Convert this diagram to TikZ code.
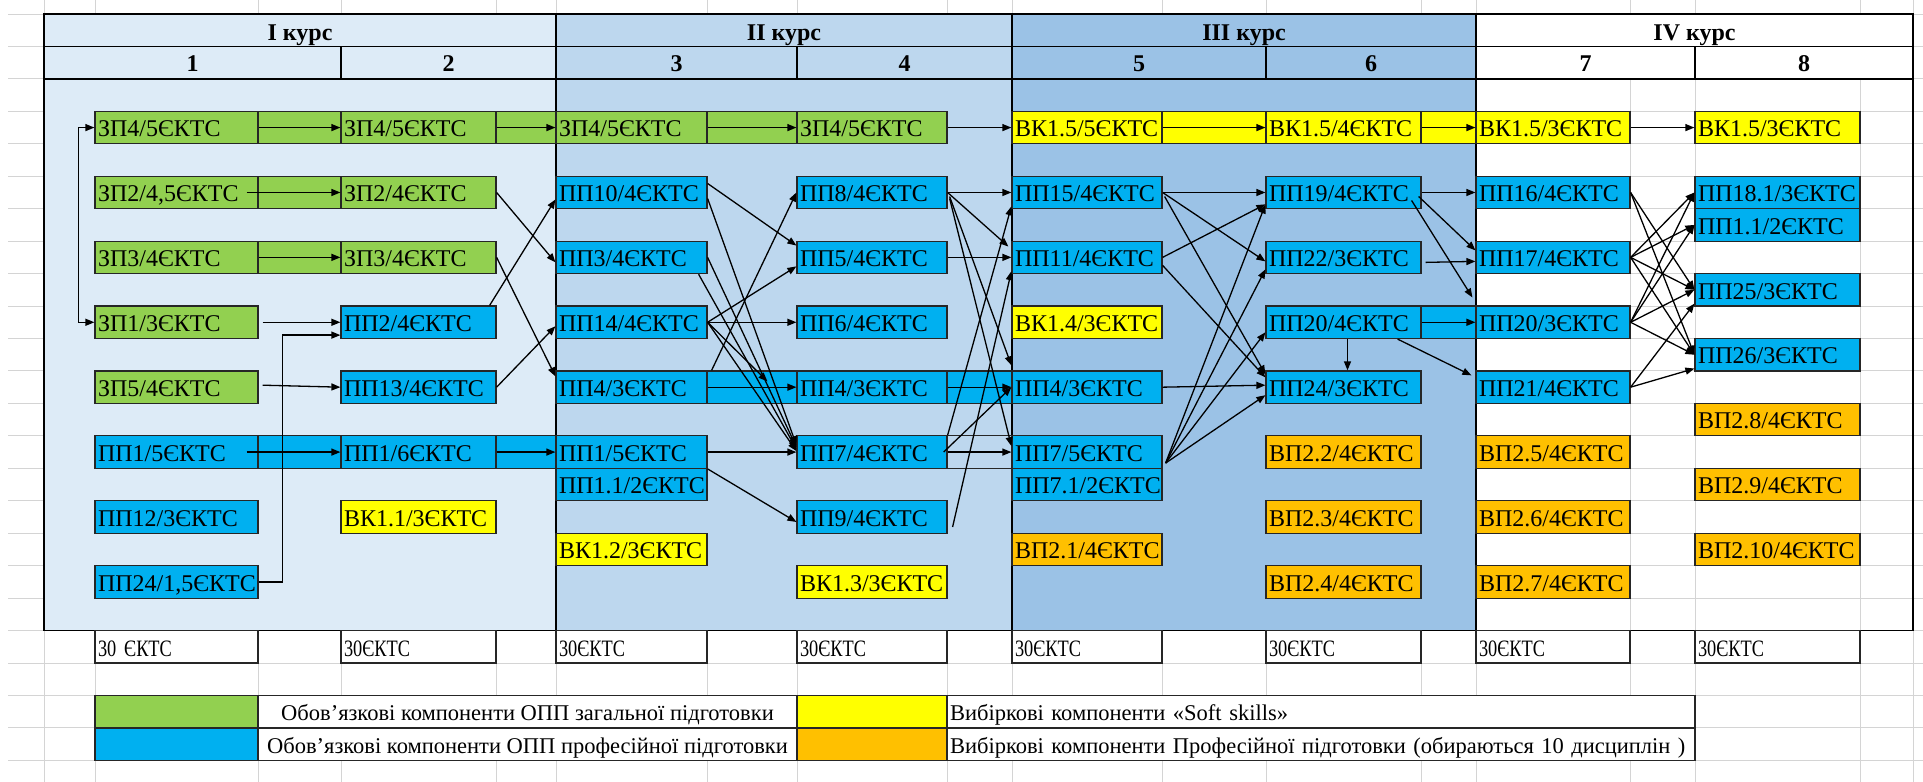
\documentclass[tikz,border=0pt]{standalone}
\usepackage{fontspec}
\setmainfont{Liberation Serif}
\newfontfamily\sumfamily[FakeStretch=0.78]{Liberation Serif}
\usepackage{tikz}
\usetikzlibrary{arrows.meta, calc}

\definecolor{zpgreen}{HTML}{92D050}
\definecolor{ppblue}{HTML}{00B0F0}
\definecolor{vkyellow}{HTML}{FFFF00}
\definecolor{vporange}{HTML}{FFC000}
\definecolor{yearone}{HTML}{DDEBF7}
\definecolor{yeartwo}{HTML}{BDD7EE}
\definecolor{yearthree}{HTML}{9BC2E6}
\definecolor{gridgray}{HTML}{D4D4D4}

\newcommand{\cellfont}{\fontsize{24}{28}\selectfont}
\newcommand{\legfont}{\fontsize{22.5}{26}\selectfont}
\newcommand{\sumfont}{\sumfamily\fontsize{23.5}{27}\selectfont}

\tikzstyle{cell} = [rectangle, draw=black!85, line width=1.2pt, minimum height=32.45pt, inner xsep=3pt, inner ysep=0pt, text height=18.45pt, text depth=0pt, align=left, font=\cellfont]
\tikzstyle{zp} = [cell, fill=zpgreen]
\tikzstyle{pp} = [cell, fill=ppblue]
\tikzstyle{vk} = [cell, fill=vkyellow]
\tikzstyle{vp} = [cell, fill=vporange]
\tikzstyle{blank} = [cell, fill=white]
\tikzstyle{sum} = [blank, font=\sumfont]
\tikzstyle{legend} = [blank, font=\legfont]
\tikzstyle{colA} = [text width=157pt]
\tikzstyle{colB} = [text width=149pt]
\tikzstyle{colC} = [text width=145pt]
\tikzstyle{colD} = [text width=144pt]
\tikzstyle{colE} = [text width=144pt]
\tikzstyle{colF} = [text width=149pt]
\tikzstyle{colG} = [text width=148pt]
\tikzstyle{colH} = [text width=159pt]
\tikzstyle{head} = [font=\bfseries\cellfont, inner sep=0pt, text height=15pt, text depth=0pt]
\tikzstyle{strip} = [draw=black!85, line width=1.2pt]
\tikzstyle{gridline} = [draw=gridgray, line width=1pt]
\tikzstyle{frame} = [draw=black, line width=1.4pt]
\tikzstyle{arrow} = [line width=1.3pt, ->, >={Triangle[length=9pt,width=7pt]}]

\begin{document}
\begin{tikzpicture}[x=1pt, y=-1pt, node distance=64.9pt]
\useasboundingbox (0,0) rectangle (1923,782);

% spreadsheet grid
\foreach \gx in {44,95,258,341,496,556,707,797,947,1012,1162,1266,1421,1476,1630,1695,1860,1913}
  \draw [gridline] (\gx,0) -- (\gx,782);
\foreach \k in {0,...,23}
  \draw [gridline] (8,{14+32.45*\k}) -- (1923,{14+32.45*\k});

% years
\fill [yearone] (44,14) rectangle (556,630.55);
\fill [yeartwo] (556,14) rectangle (1012,630.55);
\fill [yearthree] (1012,14) rectangle (1476,630.55);
\fill [white] (1476,14) rectangle (1913,78.9);
\draw [frame] (44,14) rectangle (1913,630.55);
\draw [frame] (44,46.45) -- (1913,46.45);
\draw [frame] (44,78.9) -- (1913,78.9);
\foreach \bx in {556,1012,1476}
  \draw [frame] (\bx,14) -- (\bx,630.55);
\foreach \sx in {341,797,1266,1695}
  \draw [frame] (\sx,46.45) -- (\sx,78.9);

\node (kursI) [head] at (300,32.5) {I курс};
\node (kursII) [head] at (784,32.5) {II курс};
\node (kursIII) [head] at (1244,32.5) {III курс};
\node (kursIV) [head] at (1694.5,32.5) {IV курс};
\node (semA) [head] at (192.5,64.2) {1};
\node (semB) [head] at (448.5,64.2) {2};
\node (semC) [head] at (676.5,64.2) {3};
\node (semD) [head] at (904.5,64.2) {4};
\node (semE) [head] at (1139,64.2) {5};
\node (semF) [head] at (1371,64.2) {6};
\node (semG) [head] at (1585.5,64.2) {7};
\node (semH) [head] at (1804,64.2) {8};

% cells between boxes of one row
\filldraw [strip, fill=zpgreen] (258,111.35) rectangle (341,143.8);
\filldraw [strip, fill=zpgreen] (496,111.35) rectangle (556,143.8);
\filldraw [strip, fill=zpgreen] (707,111.35) rectangle (797,143.8);
\filldraw [strip, fill=zpgreen] (258,176.25) rectangle (341,208.7);
\filldraw [strip, fill=zpgreen] (258,241.15) rectangle (341,273.6);
\filldraw [strip, fill=ppblue] (258,435.85) rectangle (341,468.3);
\filldraw [strip, fill=ppblue] (496,435.85) rectangle (556,468.3);
\filldraw [strip, fill=ppblue] (707,370.95) rectangle (797,403.4);
\filldraw [strip, fill=ppblue] (947,370.95) rectangle (1012,403.4);
\filldraw [strip, fill=vkyellow] (1162,111.35) rectangle (1266,143.8);
\filldraw [strip, fill=vkyellow] (1421,111.35) rectangle (1476,143.8);
\filldraw [strip, fill=ppblue] (1421,306.05) rectangle (1476,338.5);
\draw [strip] (947,435.85) -- (1012,435.85);
\draw [strip] (947,468.3) -- (1012,468.3);

% semester 1
\node (zp4a) [zp, colA] at (176.5,127.575) {ЗП4/5ЄКТС};
\node (zp2a) [zp, colA, below of=zp4a] {ЗП2/4,5ЄКТС};
\node (zp3a) [zp, colA, below of=zp2a] {ЗП3/4ЄКТС};
\node (zp1a) [zp, colA, below of=zp3a] {ЗП1/3ЄКТС};
\node (zp5a) [zp, colA, below of=zp1a] {ЗП5/4ЄКТС};
\node (pp1a) [pp, colA, below of=zp5a] {ПП1/5ЄКТС};
\node (pp12a) [pp, colA, below of=pp1a] {ПП12/3ЄКТС};
\node (pp24a) [pp, colA, below of=pp12a] {ПП24/1,5ЄКТС};

% semester 2
\node (zp4b) [zp, colB] at (418.5,127.575) {ЗП4/5ЄКТС};
\node (zp2b) [zp, colB, below of=zp4b] {ЗП2/4ЄКТС};
\node (zp3b) [zp, colB, below of=zp2b] {ЗП3/4ЄКТС};
\node (pp2b) [pp, colB, below of=zp3b] {ПП2/4ЄКТС};
\node (pp13b) [pp, colB, below of=pp2b] {ПП13/4ЄКТС};
\node (pp1b) [pp, colB, below of=pp13b] {ПП1/6ЄКТС};
\node (vk11b) [vk, colB, below of=pp1b] {ВК1.1/3ЄКТС};

% semester 3
\node (zp4c) [zp, colC] at (631.5,127.575) {ЗП4/5ЄКТС};
\node (pp10c) [pp, colC, below of=zp4c] {ПП10/4ЄКТС};
\node (pp3c) [pp, colC, below of=pp10c] {ПП3/4ЄКТС};
\node (pp14c) [pp, colC, below of=pp3c] {ПП14/4ЄКТС};
\node (pp4c) [pp, colC, below of=pp14c] {ПП4/3ЄКТС};
\node (pp1c) [pp, colC, below of=pp4c] {ПП1/5ЄКТС};
\node (pp11c) [node distance=32.45pt, pp, colC, below of=pp1c] {ПП1.1/2ЄКТС};
\node (vk12c) [vk, colC, below of=pp11c] {ВК1.2/3ЄКТС};

% semester 4
\node (zp4d) [zp, colD] at (872,127.575) {ЗП4/5ЄКТС};
\node (pp8d) [pp, colD, below of=zp4d] {ПП8/4ЄКТС};
\node (pp5d) [pp, colD, below of=pp8d] {ПП5/4ЄКТС};
\node (pp6d) [pp, colD, below of=pp5d] {ПП6/4ЄКТС};
\node (pp4d) [pp, colD, below of=pp6d] {ПП4/3ЄКТС};
\node (pp7d) [pp, colD, below of=pp4d] {ПП7/4ЄКТС};
\node (pp9d) [pp, colD, below of=pp7d] {ПП9/4ЄКТС};
\node (vk13d) [vk, colD, below of=pp9d] {ВК1.3/3ЄКТС};

% semester 5
\node (vk15e) [vk, colE] at (1087,127.575) {ВК1.5/5ЄКТС};
\node (pp15e) [pp, colE, below of=vk15e] {ПП15/4ЄКТС};
\node (pp11e) [pp, colE, below of=pp15e] {ПП11/4ЄКТС};
\node (vk14e) [vk, colE, below of=pp11e] {ВК1.4/3ЄКТС};
\node (pp4e) [pp, colE, below of=vk14e] {ПП4/3ЄКТС};
\node (pp7e) [pp, colE, below of=pp4e] {ПП7/5ЄКТС};
\node (pp71e) [node distance=32.45pt, pp, colE, below of=pp7e] {ПП7.1/2ЄКТС};
\node (vp21e) [vp, colE, below of=pp71e] {ВП2.1/4ЄКТС};

% semester 6
\node (vk15f) [vk, colF] at (1343.5,127.575) {ВК1.5/4ЄКТС};
\node (pp19f) [pp, colF, below of=vk15f] {ПП19/4ЄКТС};
\node (pp22f) [pp, colF, below of=pp19f] {ПП22/3ЄКТС};
\node (pp20f) [pp, colF, below of=pp22f] {ПП20/4ЄКТС};
\node (pp24f) [pp, colF, below of=pp20f] {ПП24/3ЄКТС};
\node (vp22f) [vp, colF, below of=pp24f] {ВП2.2/4ЄКТС};
\node (vp23f) [vp, colF, below of=vp22f] {ВП2.3/4ЄКТС};
\node (vp24f) [vp, colF, below of=vp23f] {ВП2.4/4ЄКТС};

% semester 7
\node (vk15g) [vk, colG] at (1553,127.575) {ВК1.5/3ЄКТС};
\node (pp16g) [pp, colG, below of=vk15g] {ПП16/4ЄКТС};
\node (pp17g) [pp, colG, below of=pp16g] {ПП17/4ЄКТС};
\node (pp20g) [pp, colG, below of=pp17g] {ПП20/3ЄКТС};
\node (pp21g) [pp, colG, below of=pp20g] {ПП21/4ЄКТС};
\node (vp25g) [vp, colG, below of=pp21g] {ВП2.5/4ЄКТС};
\node (vp26g) [vp, colG, below of=vp25g] {ВП2.6/4ЄКТС};
\node (vp27g) [vp, colG, below of=vp26g] {ВП2.7/4ЄКТС};

% semester 8
\node (vk15h) [vk, colH] at (1777.5,127.575) {ВК1.5/3ЄКТС};
\node (pp181h) [pp, colH, below of=vk15h] {ПП18.1/3ЄКТС};
\node (pp11h) [node distance=32.45pt, pp, colH, below of=pp181h] {ПП1.1/2ЄКТС};
\node (pp25h) [pp, colH, below of=pp11h] {ПП25/3ЄКТС};
\node (pp26h) [pp, colH, below of=pp25h] {ПП26/3ЄКТС};
\node (vp28h) [vp, colH, below of=pp26h] {ВП2.8/4ЄКТС};
\node (vp29h) [vp, colH, below of=vp28h] {ВП2.9/4ЄКТС};
\node (vp210h) [vp, colH, below of=vp29h] {ВП2.10/4ЄКТС};

% credits per semester
\node (sumA) [sum, colA] at (176.5,646.775) {30 ЄКТС};
\node (sumB) [sum, colB] at (418.5,646.775) {30ЄКТС};
\node (sumC) [sum, colC] at (631.5,646.775) {30ЄКТС};
\node (sumD) [sum, colD] at (872,646.775) {30ЄКТС};
\node (sumE) [sum, colE] at (1087,646.775) {30ЄКТС};
\node (sumF) [sum, colF] at (1343.5,646.775) {30ЄКТС};
\node (sumG) [sum, colG] at (1553,646.775) {30ЄКТС};
\node (sumH) [sum, colH] at (1777.5,646.775) {30ЄКТС};

% legend
\node (legzp) [zp, minimum width=163pt] at (176.5,711.675) {};
\node (legzptext) [legend, minimum width=539pt] at (527.5,711.675) {Обов’язкові компоненти ОПП загальної підготовки};
\node (legvk) [vk, minimum width=150pt] at (872,711.675) {};
\node (legvktext) [legend, text width=742pt] at (1321,711.675) {\mbox{Вибіркові компоненти «Soft skills»}};
\node (legpp) [pp, minimum width=163pt] at (176.5,744.125) {};
\node (legpptext) [legend, minimum width=539pt] at (527.5,744.125) {Обов’язкові компоненти ОПП професійної підготовки};
\node (legvp) [vp, minimum width=150pt] at (872,744.125) {};
\node (legvptext) [legend, text width=742pt] at (1321,744.125) {\mbox{Вибіркові компоненти Професійної підготовки (обираються 10 дисциплін )}};

% semester 1 -> 2
\draw [arrow, <->] (zp4a.west) -- ++(-16,0) |- (zp1a.west);
\draw [arrow] (zp4a.east) -- (zp4b.west);
\draw [arrow] ($(zp2a.east)+(-12,0)$) -- (zp2b.west);
\draw [arrow] (zp3a.east) -- (zp3b.west);
\draw [arrow] ($(zp1a.east)+(4,0)$) -- (pp2b.west);
\draw [arrow] ($(zp5a.east)+(4,-2)$) -- (pp13b.west);
\draw [arrow] ($(pp1a.east)+(-12,0)$) -- (pp1b.west);
\draw [arrow] (pp24a.east) -- ++(24,0) |- ($(pp2b.south west)+(0,-4)$);

% semester 2 -> 3
\draw [arrow] (zp4b.east) -- (zp4c.west);
\draw [arrow] (zp2b.east) -- ($(pp3c.west)+(0,5)$);
\draw [arrow] (zp3b.east) -- ($(pp4c.north west)+(0,6)$);
\draw [arrow] ($(pp2b.north east)+(-7,0)$) -- ($(pp10c.west)+(0,7)$);
\draw [arrow] (pp13b.east) -- ($(pp14c.west)+(0,4)$);
\draw [arrow] (pp1b.east) -- (pp1c.west);

% semester 3 -> 4
\draw [arrow] (zp4c.east) -- (zp4d.west);
\draw [arrow] ($(pp10c.east)+(0,-9)$) -- ($(pp5d.north west)+(0,5)$);
\draw [arrow] ($(pp10c.east)+(0,6)$) -- ($(pp7d.west)+(0,-7)$);
\draw [arrow] (pp3c.east) -- ($(pp7d.west)+(0,-5)$);
\draw [arrow] ($(pp3c.south east)+(-9,0)$) -- ($(pp7d.west)+(0,-3)$);
\draw [arrow] (pp14c.east) -- ($(pp5d.west)+(0,9)$);
\draw [arrow] (pp14c.east) -- (pp6d.west);
\draw [arrow] (pp14c.east) -- ($(pp4d.north west)+(-29,11)$);
\draw [arrow] (pp14c.east) -- ($(pp7d.west)+(0,-1)$);
\draw [arrow] ($(pp4c.north east)+(4,0)$) -- (pp8d.west);
\draw [arrow] (pp4c.east) -- (pp4d.west);
\draw [arrow] (pp1c.east) -- (pp7d.west);
\draw [arrow] (pp1c.south east) -- ($(pp9d.west)+(0,5)$);

% semester 4 -> 5
\draw [arrow] (zp4d.east) -- (vk15e.west);
\draw [arrow] (pp8d.east) -- (pp15e.west);
\draw [arrow] (pp8d.east) -- ($(pp11e.north west)+(-3,6)$);
\draw [arrow] ($(pp8d.east)+(2,4)$) -- ($(pp4e.north west)+(0,-5)$);
\draw [arrow] ($(pp8d.east)+(2,6)$) -- ($(pp7e.west)+(0,-6)$);
\draw [arrow] (pp5d.east) -- (pp11e.west);
\draw [arrow] (pp4d.east) -- (pp4e.west);
\draw [arrow] (pp7d.north east) -- ($(pp15e.south west)+(0,-3)$);
\draw [arrow] ($(pp7d.east)+(-4,0)$) -- (pp4e.west);
\draw [arrow] (pp7d.east) -- (pp7e.west);
\draw [arrow] ($(pp9d.east)+(5,10)$) -- ($(pp11e.south west)+(0,-3)$);

% semester 5 -> 6
\draw [arrow] (vk15e.east) -- (vk15f.west);
\draw [arrow] (pp15e.east) -- (pp19f.west);
\draw [arrow] (pp15e.east) -- ($(pp22f.west)+(0,4)$);
\draw [arrow] ($(pp15e.east)+(2,4)$) -- ($(pp24f.north west)+(0,4)$);
\draw [arrow] (pp11e.east) -- ($(pp19f.south west)+(0,-5)$);
\draw [arrow] ($(pp11e.east)+(0,8)$) -- ($(pp24f.north west)+(0,7)$);
\draw [arrow] (pp4e.east) -- ($(pp24f.west)+(0,-2)$);
\foreach \t/\dy in {pp19f/12, pp22f/12, pp20f/10, pp24f/8}
  \draw [arrow] ($(pp7e.east)+(3,11)$) -- ($(\t.west)+(0,\dy)$);
\draw [arrow] ($(pp20f.south)+(4,0)$) -- ($(pp24f.north)+(4,0)$);

% semester 6 -> 7
\draw [arrow] (vk15f.east) -- (vk15g.west);
\draw [arrow] (pp19f.east) -- (pp16g.west);
\draw [arrow] ($(pp19f.east)+(-3,4)$) -- ($(pp17g.west)+(0,-7)$);
\draw [arrow] ($(pp19f.east)+(-10,8)$) -- ($(pp20g.north west)+(-3,-8)$);
\draw [arrow] ($(pp22f.east)+(4,5)$) -- ($(pp17g.west)+(0,4)$);
\draw [arrow] (pp20f.east) -- (pp20g.west);
\draw [arrow] ($(pp20f.south east)+(-24,0)$) -- ($(pp21g.north west)+(-4,5)$);

% semester 7 -> 8
\draw [arrow] (vk15g.east) -- (vk15h.west);
\draw [arrow] (pp16g.east) -- (pp25h.west);
\draw [arrow] (pp16g.east) -- (pp26h.west);
\foreach \t in {pp181h, pp11h, pp25h, pp26h} {
  \draw [arrow] (pp17g.east) -- (\t.west);
  \draw [arrow] (pp20g.east) -- (\t.west);
}
\draw [arrow] (pp21g.east) -- ($(pp25h.south west)+(0,-3)$);
\draw [arrow] (pp21g.east) -- ($(pp26h.south west)+(0,-3)$);

\end{tikzpicture}
\end{document}
